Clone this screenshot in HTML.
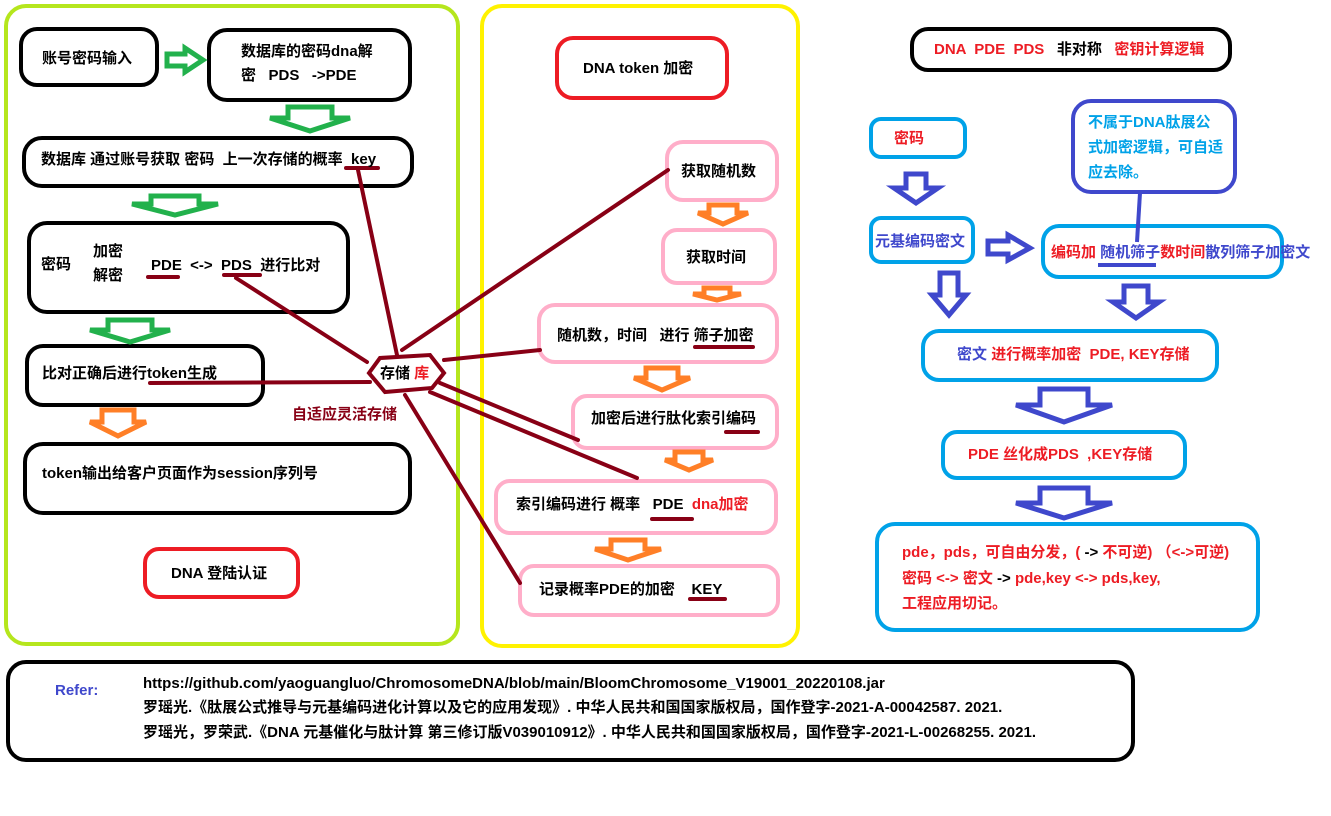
<!DOCTYPE html>
<html><head><meta charset="utf-8"><style>
body{margin:0;background:#fff;width:1331px;height:816px;overflow:hidden}
svg{display:block}
text{font-family:"Liberation Sans","Noto Sans CJK SC",sans-serif;font-weight:bold;font-size:15px;fill:#000;white-space:pre}
.r{fill:#ed1c24}.b{fill:#3f48cc}.c{fill:#00a2e8}.dr{fill:#880015}
</style></head><body>
<svg width="1331" height="816" viewBox="0 0 1331 816" xml:space="preserve">
<rect x="0" y="0" width="1331" height="816" fill="#fff"/>
<rect x="6" y="6" width="452" height="638" rx="20" fill="none" stroke="#b5e61d" stroke-width="4"/>
<rect x="482" y="6" width="316" height="640" rx="20" fill="none" stroke="#fff200" stroke-width="4"/>

<g fill="#fff" stroke="#000" stroke-width="4">
<rect x="21" y="29" width="136" height="56" rx="16"/>
<rect x="209" y="30" width="201" height="70" rx="18"/>
<rect x="24" y="138" width="388" height="48" rx="18"/>
<rect x="29" y="223" width="319" height="89" rx="18"/>
<rect x="27" y="346" width="236" height="59" rx="16"/>
<rect x="25" y="444" width="385" height="69" rx="18"/>
<rect x="912" y="29" width="318" height="41" rx="16"/>
<rect x="8" y="662" width="1125" height="98" rx="18"/>
</g>
<g fill="#fff" stroke="#ed1c24" stroke-width="4">
<rect x="145" y="549" width="153" height="48" rx="14"/>
<rect x="557" y="38" width="170" height="60" rx="16"/>
</g>
<g fill="#fff" stroke="#ffaec9" stroke-width="4">
<rect x="667" y="142" width="110" height="58" rx="16"/>
<rect x="663" y="230" width="112" height="53" rx="14"/>
<rect x="539" y="305" width="238" height="57" rx="16"/>
<rect x="573" y="396" width="204" height="52" rx="14"/>
<rect x="496" y="481" width="280" height="52" rx="14"/>
<rect x="520" y="566" width="258" height="49" rx="14"/>
</g>
<g fill="#fff" stroke="#00a2e8" stroke-width="4">
<rect x="871" y="119" width="94" height="38" rx="10"/>
<rect x="871" y="218" width="102" height="44" rx="10"/>
<rect x="1043" y="226" width="239" height="51" rx="16"/>
<rect x="923" y="331" width="294" height="49" rx="16"/>
<rect x="943" y="432" width="242" height="46" rx="14"/>
<rect x="877" y="524" width="381" height="106" rx="18"/>
</g>
<rect x="1073" y="101" width="162" height="91" rx="18" fill="#fff" stroke="#3f48cc" stroke-width="4"/>

<g fill="#fff" stroke="#22b14c" stroke-width="5">
<polygon points="167,54 185,54 185,48 203,60 185,72 185,66 167,66"/>
<polygon points="288,107 332,107 332,118 350,118 310,131 270,118 288,118"/>
<polygon points="151,196 199,196 199,204 218,204 175,215 132,204 151,204"/>
<polygon points="108,320 152,320 152,330 170,330 130,342 90,330 108,330"/>
</g>
<g fill="#fff" stroke="#ff7f27" stroke-width="5">
<polygon points="102,410 134,410 134,422 146,422 118,436 90,422 102,422"/>
<polygon points="709,205 737,205 737,213 748,213 723,224 698,213 709,213"/>
<polygon points="704,288 730,288 730,294 741,294 717,300 693,294 704,294"/>
<polygon points="646,368 678,368 678,378 690,378 662,390 634,378 646,378"/>
<polygon points="675,452 703,452 703,460 713,460 689,470 665,460 675,460"/>
<polygon points="611,540 645,540 645,549 661,549 628,560 595,549 611,549"/>
</g>
<g fill="#fff" stroke="#3f48cc" stroke-width="5">
<polygon points="906,174 926,174 926,188 938,188 916,203 894,188 906,188"/>
<polygon points="940,273 958,273 958,295 966,295 949,315 932,295 940,295"/>
<polygon points="988,241 1008,241 1008,235 1030,248 1008,260 1008,254 988,254"/>
<polygon points="1124,286 1148,286 1148,302 1159,302 1136,318 1113,302 1124,302"/>
<polygon points="1040,389 1088,389 1088,405 1112,405 1064,422 1016,405 1040,405"/>
<polygon points="1040,488 1088,488 1088,503 1112,503 1064,518 1016,503 1040,503"/>
</g>
<line x1="1140" y1="193" x2="1137" y2="242" stroke="#3f48cc" stroke-width="4"/>
<line x1="1098" y1="265" x2="1156" y2="265" stroke="#3f48cc" stroke-width="4"/>

<g stroke="#880015" stroke-width="4" fill="none" stroke-linecap="round">
<line x1="397" y1="355" x2="358" y2="170"/>
<line x1="367" y1="362" x2="236" y2="278"/>
<line x1="370" y1="382" x2="150" y2="383"/>
<line x1="402" y1="350" x2="668" y2="170"/>
<line x1="444" y1="360" x2="540" y2="350"/>
<line x1="440" y1="383" x2="578" y2="440"/>
<line x1="430" y1="392" x2="637" y2="478"/>
<line x1="405" y1="395" x2="520" y2="583"/>
<polygon points="369,373 380,358 430,355 444,373 432,388 385,392" fill="#fff"/>
<line x1="346" y1="168" x2="378" y2="168"/>
<line x1="148" y1="277" x2="178" y2="277"/>
<line x1="224" y1="275" x2="260" y2="275"/>
<line x1="695" y1="347" x2="753" y2="347"/>
<line x1="726" y1="432" x2="758" y2="432"/>
<line x1="652" y1="519" x2="692" y2="519"/>
<line x1="690" y1="599" x2="725" y2="599"/>
</g>

<text x="42" y="63">账号密码输入</text>
<text x="241" y="56">数据库的密码dna解</text>
<text x="241" y="80">密   PDS   -&gt;PDE</text>
<text x="41" y="164">数据库 通过账号获取 密码  上一次存储的概率  key</text>
<text x="41" y="269">密码</text>
<text x="93" y="256">加密</text>
<text x="93" y="280">解密</text>
<text x="151" y="270">PDE  &lt;-&gt;  PDS  进行比对</text>
<text x="42" y="378">比对正确后进行token生成</text>
<text x="42" y="478">token输出给客户页面作为session序列号</text>
<text x="171" y="578">DNA 登陆认证</text>
<text x="380" y="378">存储 <tspan class="r">库</tspan></text>
<text x="292" y="419" class="dr">自适应灵活存储</text>

<text x="583" y="73">DNA token 加密</text>
<text x="681" y="176">获取随机数</text>
<text x="686" y="262">获取时间</text>
<text x="557" y="340">随机数，时间   进行 筛子加密</text>
<text x="591" y="423">加密后进行肽化索引编码</text>
<text x="516" y="509">索引编码进行 概率   PDE  <tspan class="r">dna加密</tspan></text>
<text x="539" y="594">记录概率PDE的加密    KEY</text>

<text x="934" y="54" class="r">DNA  PDE  PDS   <tspan style="fill:#000">非对称</tspan>   密钥计算逻辑</text>
<text x="894" y="143" class="r">密码</text>
<text x="1088" y="127" class="c">不属于DNA肽展公</text>
<text x="1088" y="152" class="c">式加密逻辑，可自适</text>
<text x="1088" y="177" class="c">应去除。</text>
<text x="875" y="246" class="b">元基编码密文</text>
<text x="1051" y="257" class="r">编码加 <tspan class="b">随机筛子</tspan>数时间<tspan class="b">散列筛子加密文</tspan></text>
<text x="957" y="359"><tspan class="b">密文</tspan> <tspan class="r">进行概率加密  PDE, KEY存储</tspan></text>
<text x="968" y="459" class="r">PDE 丝化成PDS  ,KEY存储</text>
<text x="902" y="557" class="r">pde，pds，可自由分发，( <tspan style="fill:#000">-&gt;</tspan> 不可逆) （&lt;-&gt;可逆)</text>
<text x="902" y="583" class="r">密码 &lt;-&gt; 密文 <tspan style="fill:#000">-&gt;</tspan> pde,key &lt;-&gt; pds,key,</text>
<text x="902" y="608" class="r">工程应用切记。</text>

<text x="55" y="695" class="b">Refer:</text>
<text x="143" y="688">https://github.com/yaoguangluo/ChromosomeDNA/blob/main/BloomChromosome_V19001_20220108.jar</text>
<text x="143" y="712">罗瑶光.《肽展公式推导与元基编码进化计算以及它的应用发现》. 中华人民共和国国家版权局，国作登字-2021-A-00042587. 2021.</text>
<text x="143" y="737">罗瑶光，罗荣武.《DNA 元基催化与肽计算 第三修订版V039010912》. 中华人民共和国国家版权局，国作登字-2021-L-00268255. 2021.</text>
</svg>
</body></html>
